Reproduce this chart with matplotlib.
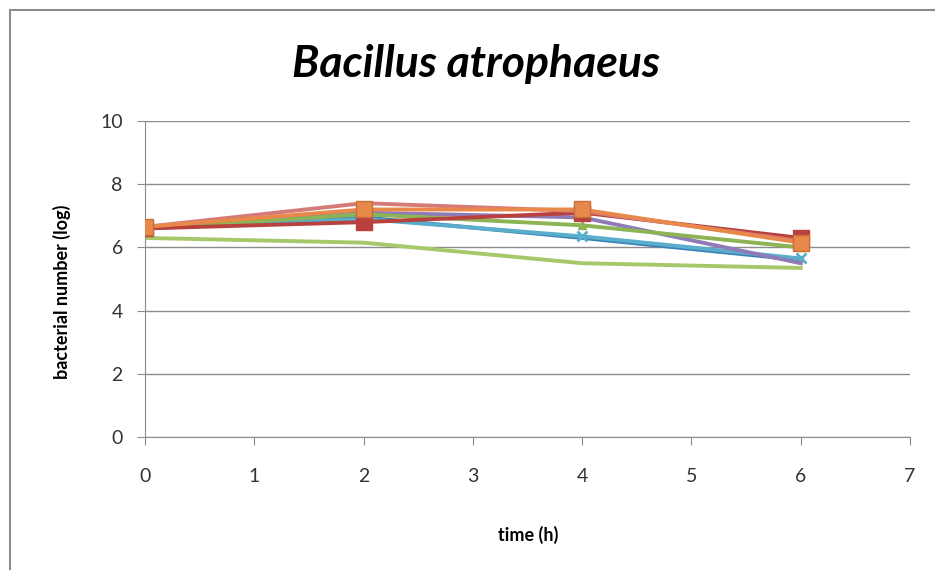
import matplotlib.pyplot as plt
from matplotlib.patches import Rectangle

# time points (h)
hours = [0, 2, 4, 6]

# log bacterial counts, one list per series
s_blue = [6.60, 6.95, 6.30, 5.60]
s_pink = [6.65, 7.40, 7.15, 6.20]
s_green = [6.60, 7.05, 6.70, 6.00]
s_purple = [6.60, 7.10, 6.95, 5.50]
s_aqua = [6.60, 6.90, 6.35, 5.65]
s_orange = [6.65, 7.20, 7.20, 6.15]
s_darkred = [6.60, 6.80, 7.10, 6.30]
s_lightgreen = [6.30, 6.15, 5.50, 5.35]

plt.rcParams['font.family'] = ['Lato', 'DejaVu Sans']

fig = plt.figure(figsize=(9.35, 5.7), dpi=100)
ax = fig.add_axes([0.1551, 0.2333, 0.8182, 0.5544])

# chart frame (only top/left edges are visible in the picture)
fig.patches.append(Rectangle((10 / 935, -0.1), 1.2, 1.1 - 10 / 570,
                             transform=fig.transFigure, fill=False,
                             edgecolor='#8c8c8c', linewidth=1.5))

ax.plot(hours, s_lightgreen, color='#a6c86a', lw=2.8, zorder=2)
ax.plot(hours, s_blue, color='#3b7fb8', lw=2.8, zorder=3)
ax.plot(hours, s_aqua, color='#5aaecb', lw=2.8, marker='x', ms=7, mew=2, zorder=3)
ax.plot(hours, s_purple, color='#8f7bb8', lw=2.8, zorder=3)
ax.plot(hours, s_green, color='#8cb454', lw=2.8, marker='^', ms=6, zorder=4)
ax.plot(hours, s_darkred, color='#b8413d', lw=2.8, marker='s', ms=11, zorder=4)
ax.plot(hours, s_pink, color='#d47a78', lw=2.8, zorder=5)
ax.plot(hours, s_orange, color='#e8884a', lw=2.8, marker='s', ms=11,
        markeredgecolor='#c8703a', zorder=6)

ax.set_xlim(0, 7)
ax.set_ylim(0, 10)
ax.set_xticks(range(0, 8))
ax.set_yticks(range(0, 11, 2))
ax.grid(axis='y', color='#8c8c8c', lw=1)
ax.set_axisbelow(True)

for side in ['top', 'right']:
    ax.spines[side].set_visible(False)
ax.spines['left'].set_color('#8c8c8c')
ax.spines['bottom'].set_color('#8c8c8c')
ax.tick_params(axis='both', colors='#8c8c8c', labelcolor='#333333',
               labelsize=14, length=6, direction='out')
ax.tick_params(axis='x', pad=16)
ax.tick_params(axis='y', pad=10)

fig.text(476 / 935, 1 - 64 / 570, 'Bacillus atrophaeus', fontsize=32,
         fontweight='bold', fontstyle='italic', ha='center', va='center')
fig.text(528 / 935, 1 - 535 / 570, 'time (h)', fontsize=13,
         fontweight='bold', ha='center', va='center')
fig.text(62 / 935, 1 - 292 / 570, 'bacterial number (log)', fontsize=13,
         fontweight='bold', ha='center', va='center', rotation=90)

fig.savefig('out.png', dpi=100)
